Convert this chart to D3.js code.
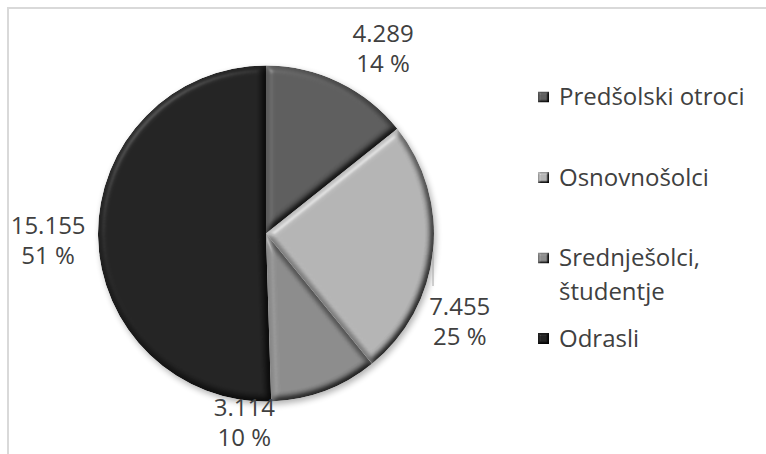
<!DOCTYPE html>
<html>
<head>
<meta charset="utf-8">
<script src="https://cdn.jsdelivr.net/npm/d3@7"></script>
<style>
  html, body { margin: 0; padding: 0; background: #fff; }
  svg { display: block; }
  text { font-family: "Open Sans", Lato, sans-serif; fill: #404040; }
</style>
</head>
<body>
<div id="chart"></div>
<script>
// podatki
var categories = ["Predšolski otroci", "Osnovnošolci", "Srednješolci, študentje", "Odrasli"];
var values = [4289, 7455, 3114, 15155];
var percentLabels = ["14 %", "25 %", "10 %", "51 %"];

// barve rezin
var colors = ["#5b5b5b", "#b2b2b2", "#8a8a8a", "#212121"];

// premik oznak glede na sredino rezine (kot v stopinjah, polmer)
var labelLayout = [
  { da: 6.6, r: 219, leader: false },
  { da: 18.4, r: 213, leader: true },
  { da: 27, r: 190, leader: false },
  { da: -0.9, r: 218, leader: false }
];

var width = 766, height = 454;
var cx = 266, cy = 233.5, radius = 168;
var fontSize = 24;

var fmt = d3.formatLocale({ decimal: ",", thousands: ".", grouping: [3], currency: ["", " €"] }).format(",d");

var svg = d3.select("#chart").append("svg")
  .attr("width", width)
  .attr("height", height);

var defs = svg.append("defs");

// bevel efekt
function addBevel(id, blur, scale) {
  var f = defs.append("filter").attr("id", id)
    .attr("x", "-10%").attr("y", "-10%").attr("width", "120%").attr("height", "120%")
    .attr("color-interpolation-filters", "sRGB");
  f.append("feGaussianBlur").attr("in", "SourceAlpha").attr("stdDeviation", blur).attr("result", "b");
  var dl = f.append("feDiffuseLighting").attr("in", "b").attr("surfaceScale", scale)
    .attr("diffuseConstant", 1.15).attr("lighting-color", "#fff").attr("result", "d");
  dl.append("feDistantLight").attr("azimuth", 225).attr("elevation", 60);
  var sl = f.append("feSpecularLighting").attr("in", "b").attr("surfaceScale", scale)
    .attr("specularConstant", 0.5).attr("specularExponent", 20).attr("lighting-color", "#fff").attr("result", "s");
  sl.append("feDistantLight").attr("azimuth", 225).attr("elevation", 35);
  f.append("feComposite").attr("in", "SourceGraphic").attr("in2", "d").attr("operator", "arithmetic")
    .attr("k1", 1).attr("k2", 0).attr("k3", 0).attr("k4", 0).attr("result", "lit");
  f.append("feComposite").attr("in", "s").attr("in2", "SourceAlpha").attr("operator", "in").attr("result", "sIn");
  f.append("feComposite").attr("in", "lit").attr("in2", "sIn").attr("operator", "arithmetic")
    .attr("k1", 0).attr("k2", 1).attr("k3", 0.35).attr("k4", 0).attr("result", "all");
  f.append("feComposite").attr("in", "all").attr("in2", "SourceAlpha").attr("operator", "in");
}
addBevel("bevel", 3.5, 5);
addBevel("bevelSmall", 1.2, 3);

var shadow = defs.append("filter").attr("id", "shadow")
  .attr("x", "-20%").attr("y", "-20%").attr("width", "140%").attr("height", "140%");
shadow.append("feGaussianBlur").attr("stdDeviation", 3);

// okvir
svg.append("rect")
  .attr("x", 8).attr("y", 8)
  .attr("width", 820).attr("height", 520)
  .attr("fill", "none")
  .attr("stroke", "#d9d9d9")
  .attr("stroke-width", 2);

var pie = d3.pie().sort(null).value(function(d) { return d; });
var arcs = pie(values);
var arc = d3.arc().innerRadius(0).outerRadius(radius);

var g = svg.append("g").attr("transform", "translate(" + cx + "," + cy + ")");

// senca
g.append("circle")
  .attr("cx", 2).attr("cy", 3).attr("r", radius)
  .attr("fill", "#000").attr("opacity", 0.3)
  .attr("filter", "url(#shadow)");

g.selectAll("path.slice")
  .data(arcs)
  .enter().append("path")
  .attr("class", "slice")
  .attr("d", arc)
  .attr("fill", function(d, i) { return colors[i]; })
  .attr("filter", "url(#bevel)");

// oznake
var lineH = 30;
arcs.forEach(function(d, i) {
  var lay = labelLayout[i];
  var mid = (d.startAngle + d.endAngle) / 2;
  var a = mid + lay.da * Math.PI / 180;
  var lx = Math.sin(a) * lay.r, ly = -Math.cos(a) * lay.r;

  if (lay.leader) {
    var ex = Math.sin(mid) * radius, ey = -Math.cos(mid) * radius;
    g.append("line")
      .attr("x1", ex).attr("y1", ey)
      .attr("x2", ex).attr("y2", ly - 36)
      .attr("stroke", "#a6a6a6").attr("stroke-width", 1);
  }

  var t = g.append("text")
    .attr("text-anchor", "middle")
    .attr("font-size", fontSize);
  t.append("tspan").attr("x", lx).attr("y", ly - lineH / 2).attr("dy", "0.35em").text(fmt(values[i]));
  t.append("tspan").attr("x", lx).attr("y", ly + lineH / 2).attr("dy", "0.35em").text(percentLabels[i]);
});

// legenda
var legend = svg.append("g").attr("transform", "translate(538,0)");
var legendY = d3.scalePoint().domain(categories).range([97, 338.5]);
var maxW = 200;

categories.forEach(function(name, i) {
  var y = legendY(name);
  var item = legend.append("g").attr("transform", "translate(0," + y + ")");
  item.append("rect")
    .attr("x", 0).attr("y", -5.5)
    .attr("width", 11).attr("height", 11)
    .attr("fill", colors[i])
    .attr("filter", "url(#bevelSmall)");

  var t = item.append("text").attr("x", 21).attr("font-size", fontSize);
  var words = name.split(" ");
  var line = [];
  var tspan = t.append("tspan").attr("x", 21).attr("y", 0).attr("dy", "0.35em");
  var n = 0;
  words.forEach(function(w) {
    line.push(w);
    tspan.text(line.join(" "));
    if (tspan.node().getComputedTextLength() > maxW && line.length > 1) {
      line.pop();
      tspan.text(line.join(" "));
      line = [w];
      n++;
      tspan = t.append("tspan").attr("x", 21).attr("y", n * 34).attr("dy", "0.35em").text(w);
    }
  });
});
</script>
</body>
</html>
